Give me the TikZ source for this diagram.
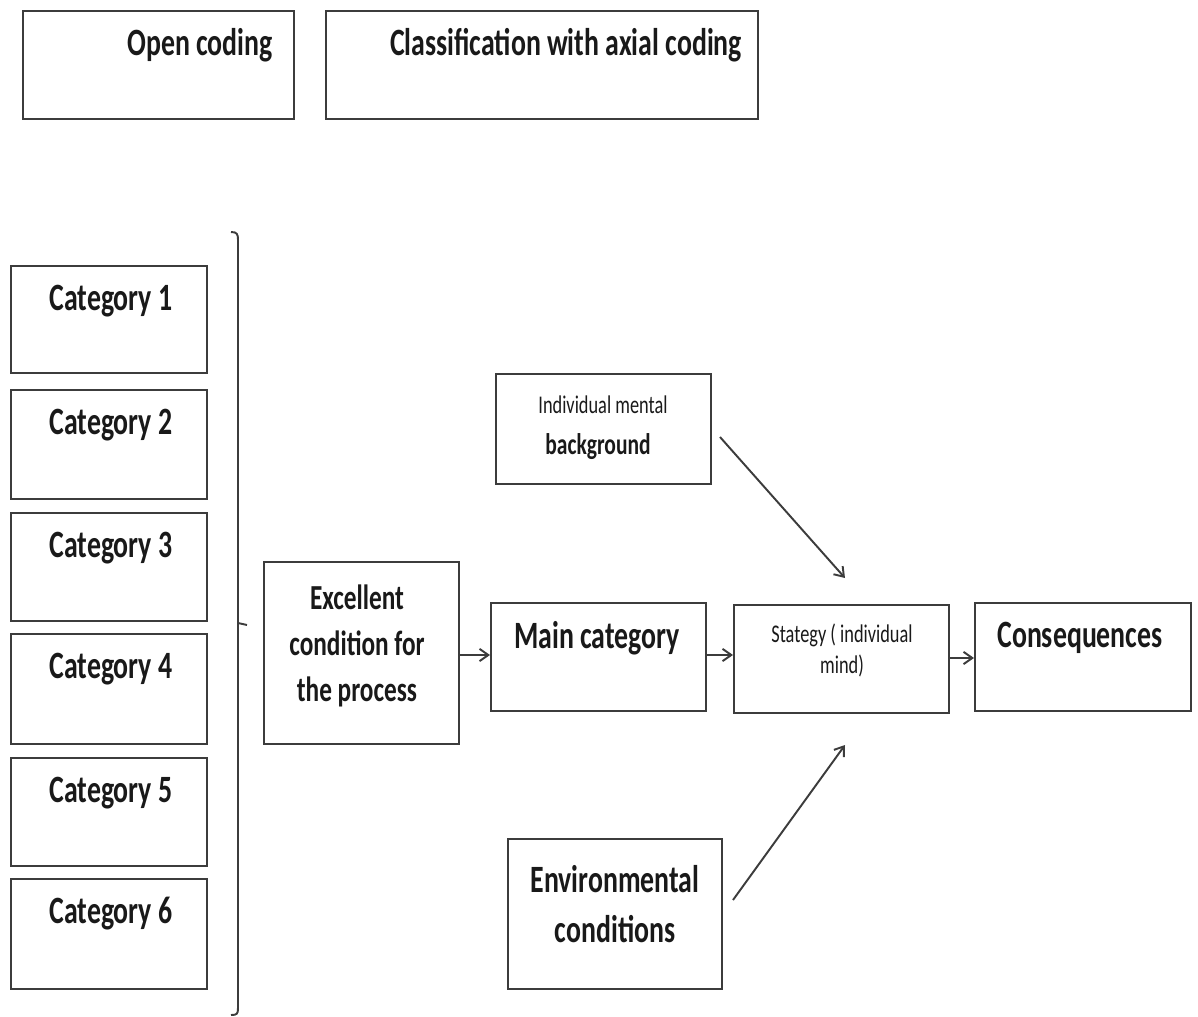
\documentclass[tikz,border=0pt]{standalone}
\usepackage{fontspec}
\newfontfamily\cf[FakeStretch=0.72]{Carlito}
\usetikzlibrary{arrows.meta}
\definecolor{ln}{RGB}{60,60,60}
\definecolor{tx}{RGB}{25,25,25}
\tikzset{
  box/.style={draw=ln, line width=1.1pt, anchor=north west, inner sep=0pt},
  big/.style={text=tx, font=\cf\bfseries\fontsize{22}{26.2}\selectfont, align=center, inner sep=0pt},
  small/.style={text=tx, font=\cf\fontsize{14.5}{17.6}\selectfont, align=center, inner sep=0pt},
  arr/.style={draw=ln, line width=1.1pt, -{Straight Barb[length=5pt,width=7pt]}},
}
\begin{document}
\begin{tikzpicture}[x=0.02cm,y=-0.02cm]
\useasboundingbox (0,0) rectangle (1198,1017);
% top boxes
\node[box, minimum width=271*0.02cm, minimum height=108*0.02cm] (open) at (22,10) {};
\node[big] (opent) at (200,45) {Open coding};
\node[box, minimum width=432*0.02cm, minimum height=108*0.02cm] (axial) at (325,10) {};
\node[big] (axialt) at (566,45) {Classification with axial coding};
% categories
\foreach \i/\yt/\yb in {1/265/372, 2/389/498, 3/512/620, 4/633/743, 5/757/865, 6/878/988}{
  \node[box, minimum width=196*0.02cm, minimum height={(\yb-\yt)*0.02cm}] (cat\i) at (10,\yt) {};
  \node[big] (cat\i t) at (111,\yt+36) {Category \i};
}
% bracket
\draw[ln, line width=1.1pt] (231,232) .. controls (237,232) and (238,234) .. (238,240) -- (238,1008) .. controls (238,1014) and (237,1015) .. (231,1015);
\draw[ln, line width=1.1pt] (238,623) -- (247,625);
% middle boxes
\node[box, minimum width=195*0.02cm, minimum height=182*0.02cm] (exc) at (263,561) {};
\node[big, font=\cf\bfseries\fontsize{20}{26.2}\selectfont] (exct) at (357,646) {Excellent\\condition for\\the process};
\node[box, minimum width=215*0.02cm, minimum height=108*0.02cm] (main) at (490,602) {};
\node[big] (maint) at (597,638) {Main category};
\node[box, minimum width=215*0.02cm, minimum height=110*0.02cm] (indiv) at (495,373) {};
\node[small] (indivt1) at (603,405) {Individual mental};
\node[big, font=\cf\bfseries\fontsize{17}{20}\selectfont] (indivt2) at (598,447) {background};
\node[box, minimum width=215*0.02cm, minimum height=108*0.02cm] (strat) at (733,604) {};
\node[small] (stratt) at (842,650) {Stategy ( individual\\mind)};
\node[box, minimum width=216*0.02cm, minimum height=108*0.02cm] (cons) at (974,602) {};
\node[big] (const) at (1080,638) {Consequences};
\node[box, minimum width=214*0.02cm, minimum height=150*0.02cm] (env) at (507,838) {};
\node[big, font=\cf\bfseries\fontsize{22}{28.5}\selectfont] (envt) at (615,904) {Environmental\\conditions};
% arrows
\draw[arr] (exc.east |- 0,655) -- (main.west |- 0,655);
\draw[arr] (main.east |- 0,655) -- (strat.west |- 0,655);
\draw[arr] (strat.east |- 0,658) -- (cons.west |- 0,658);
\coordinate (a1) at (720,437);
\coordinate (a2) at (845,578);
\coordinate (b1) at (733,900);
\coordinate (b2) at (845,745);
\draw[arr] (a1) -- (a2);
\draw[arr] (b1) -- (b2);
\end{tikzpicture}
\end{document}
